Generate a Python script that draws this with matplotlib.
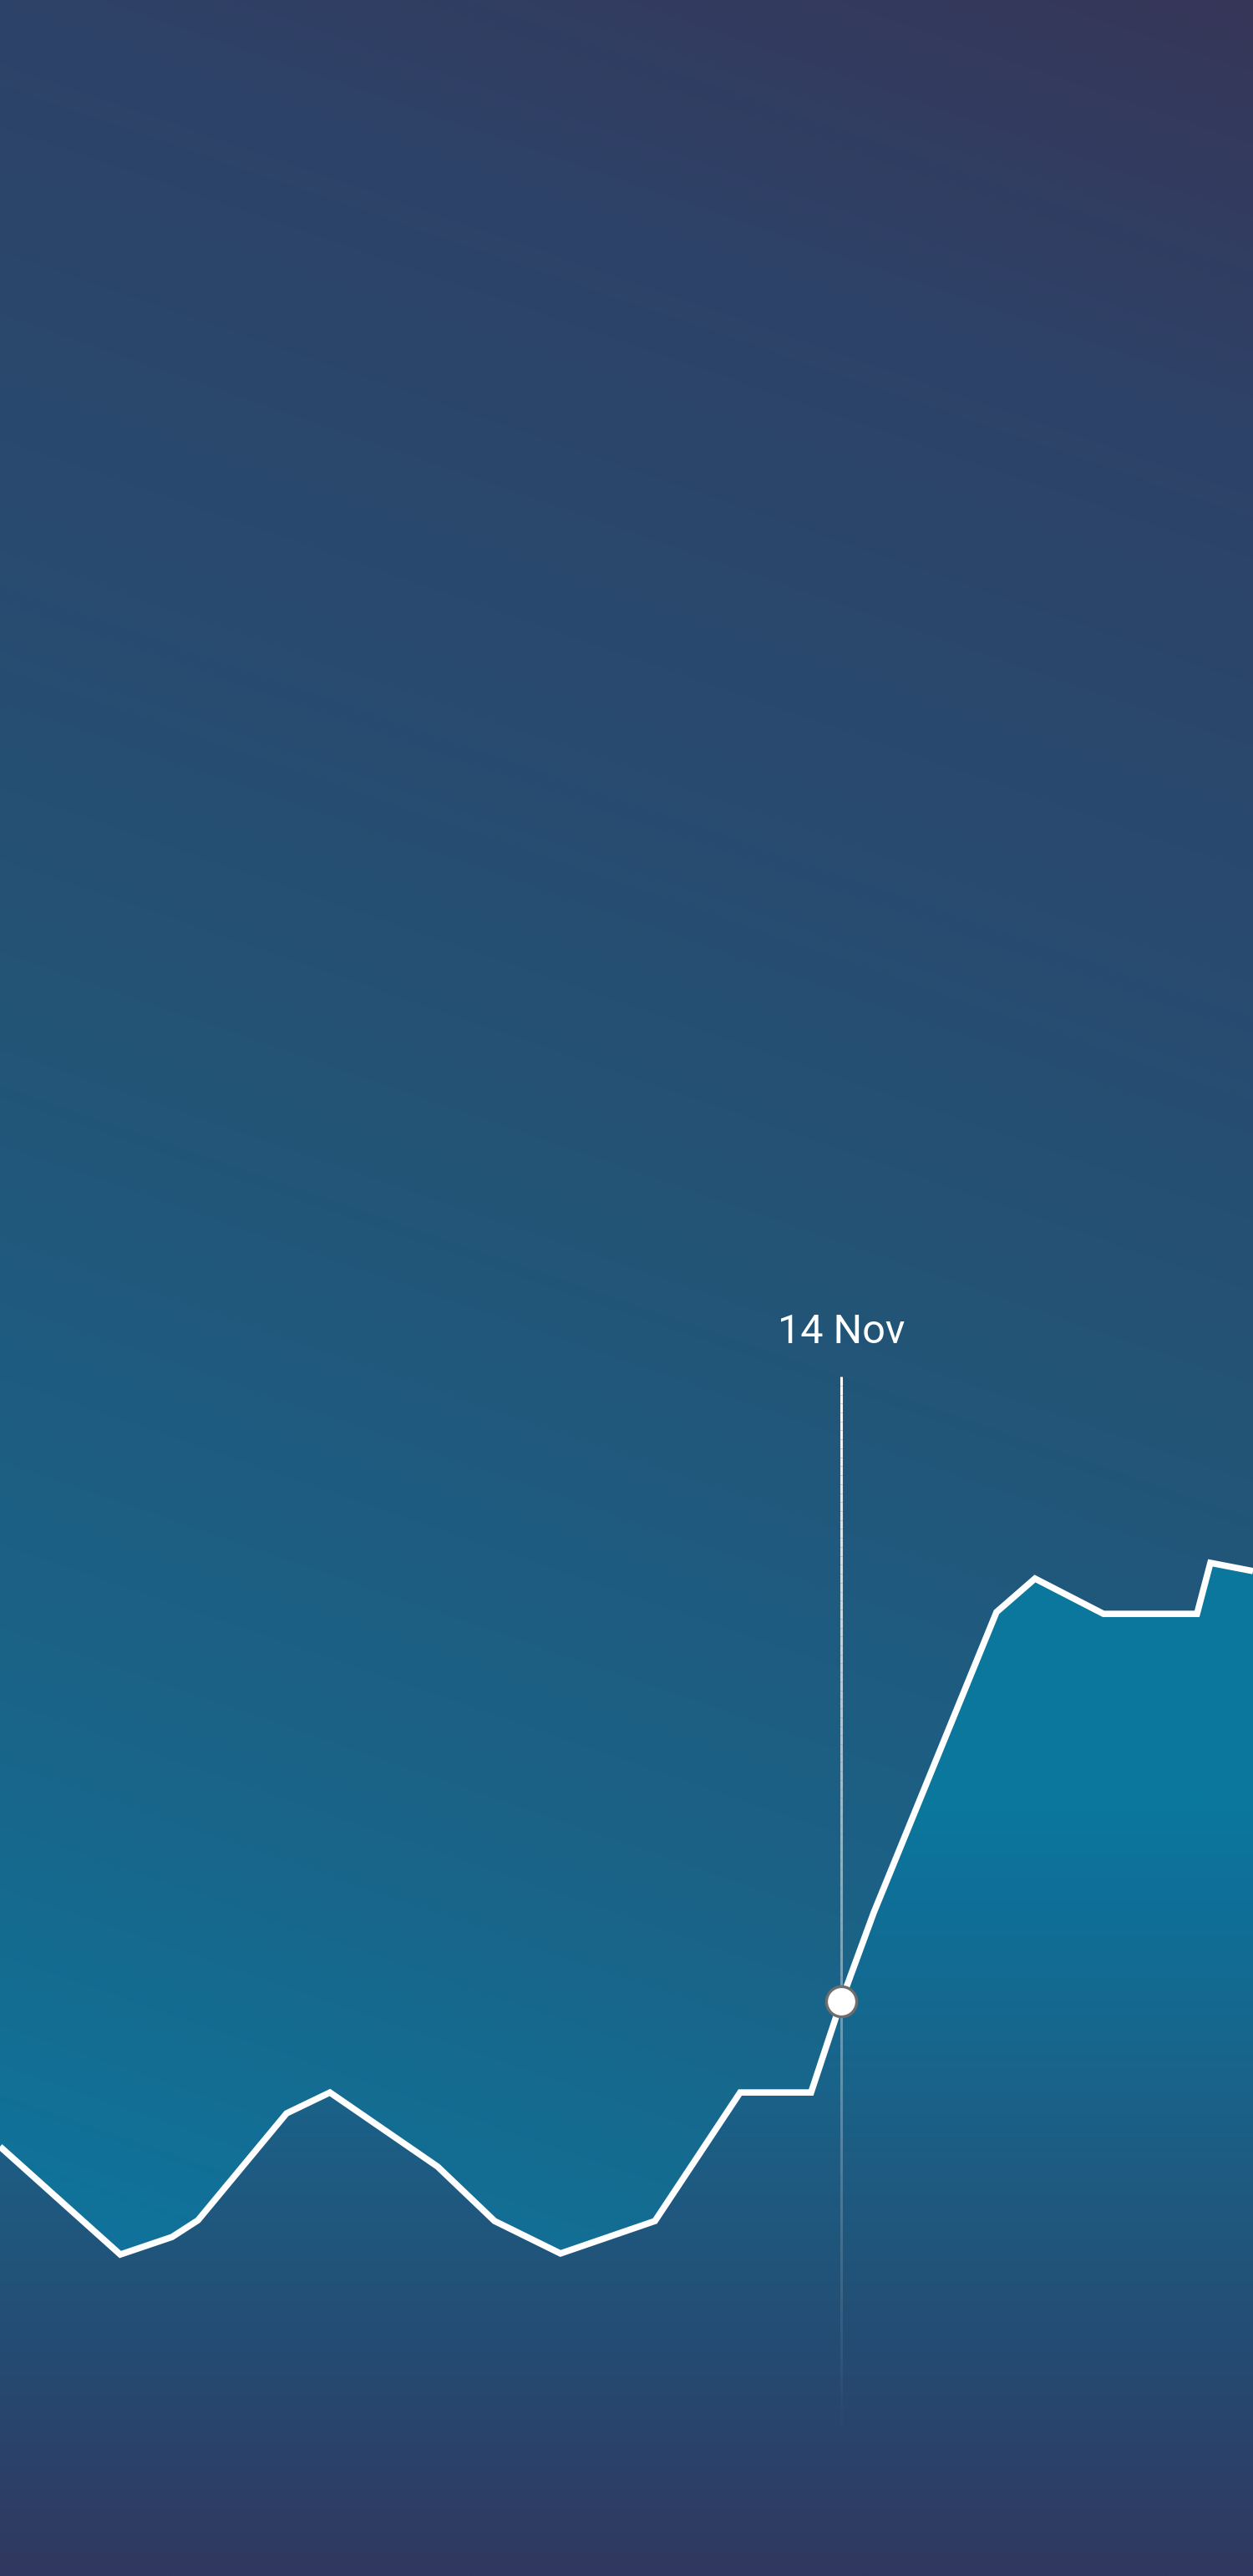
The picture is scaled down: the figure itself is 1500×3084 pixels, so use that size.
"""Area line chart on a dark gradient, with a highlighted point for 14 Nov."""
import matplotlib
matplotlib.use('Agg')
import matplotlib.pyplot as plt
import numpy as np
from matplotlib.colors import to_rgb
from matplotlib.collections import LineCollection
from matplotlib.patches import Polygon

# series (x on a 0-100 scale across the width, y on a 0-100 value scale)
x_vals = [0.0, 9.6, 13.73, 15.8, 22.87, 26.33, 34.93, 39.47, 44.73, 52.27,
          59.07, 64.73, 67.13, 69.73, 79.53, 82.6, 88.07, 95.53, 96.6, 100.0]
y_vals = [16.67, 12.48, 13.16, 13.81, 17.96, 18.77, 15.89, 13.78, 12.52, 13.78,
          18.77, 18.77, 22.3, 25.75, 37.42, 38.72, 37.35, 37.35, 39.33, 39.01]
selected_idx = 12
selected_label = '14 Nov'

# background gradient stops (along a slight diagonal, 0 = top-left)
bg_pos = [-520, 0, 300, 600, 1200, 1600, 2000, 2300, 2650, 3100]
bg_cols = ['#363658', '#2e4268', '#2b466b', '#294a6f', '#235476', '#1f5b80',
           '#1b6388', '#156b90', '#10739b', '#0e769d']
# area fill gradient stops (vertical, pixels from top)
fill_pos = [1850, 2170, 2275, 2384, 2492, 2600, 2709, 2818, 2926, 3035, 3084]
fill_cols = ['#0b789e', '#0b779d', '#0f6f98', '#146a91', '#19638a', '#1e5b82',
             '#21547a', '#254b73', '#2a436b', '#2f3b62', '#313760']

W, H = 1500, 3084


def ramp(pos, cols, t):
    rgb = np.array([to_rgb(c) for c in cols])
    return np.stack([np.interp(t, pos, rgb[:, k]) for k in range(3)], axis=-1)


fig = plt.figure(figsize=(W / 100, H / 100), dpi=100)
ax = fig.add_axes([0, 0, 1, 1])
ax.set_xlim(0, 100)
ax.set_ylim(0, 100)
ax.axis('off')

# background
gx, gy = np.meshgrid(np.linspace(0, W, 300), np.linspace(0, H, 617))
bg = ramp(bg_pos, bg_cols, gy - gx / 2.9)
ax.imshow(bg, extent=[0, 100, 0, 100], aspect='auto', interpolation='bilinear',
          zorder=0)

# gradient area under the line
fy = np.linspace(0, H, 617)[:, None] * np.ones((1, 4))
fill = ramp(fill_pos, fill_cols, fy)
im = ax.imshow(fill, extent=[0, 100, 0, 100], aspect='auto',
               interpolation='bilinear', zorder=1)
area = Polygon(np.column_stack([x_vals + [x_vals[-1], x_vals[0]],
                                y_vals + [0, 0]]),
               closed=True, transform=ax.transData, facecolor='none',
               edgecolor='none')
ax.add_patch(area)
im.set_clip_path(area)

# fading guide line for the selected point
sx, sy = x_vals[selected_idx], y_vals[selected_idx]
top, bottom = 46.56, 5.16
ys = np.linspace(top, bottom, 120)
segs = [[(sx, ys[i]), (sx, ys[i + 1])] for i in range(len(ys) - 1)]
alphas = np.linspace(1.0, 0.0, len(segs)) ** 1.1
lc = LineCollection(segs, colors=[(1, 1, 1, a) for a in alphas],
                    linewidths=2.2, zorder=2)
ax.add_collection(lc)

# main line
ax.plot(x_vals, y_vals, color='white', lw=5.5, solid_joinstyle='miter',
        solid_capstyle='butt', zorder=3)

# selected marker and label
ax.plot(sx, sy, 'o', ms=26, mfc='white', mec='#6e6e6e', mew=2.4, zorder=4)
ax.text(sx, 47.86, selected_label, ha='center', va='baseline', fontsize=35,
        color='white', family=['Roboto', 'DejaVu Sans'], zorder=4)

fig.savefig('out.png', dpi=100)
plt.close(fig)
